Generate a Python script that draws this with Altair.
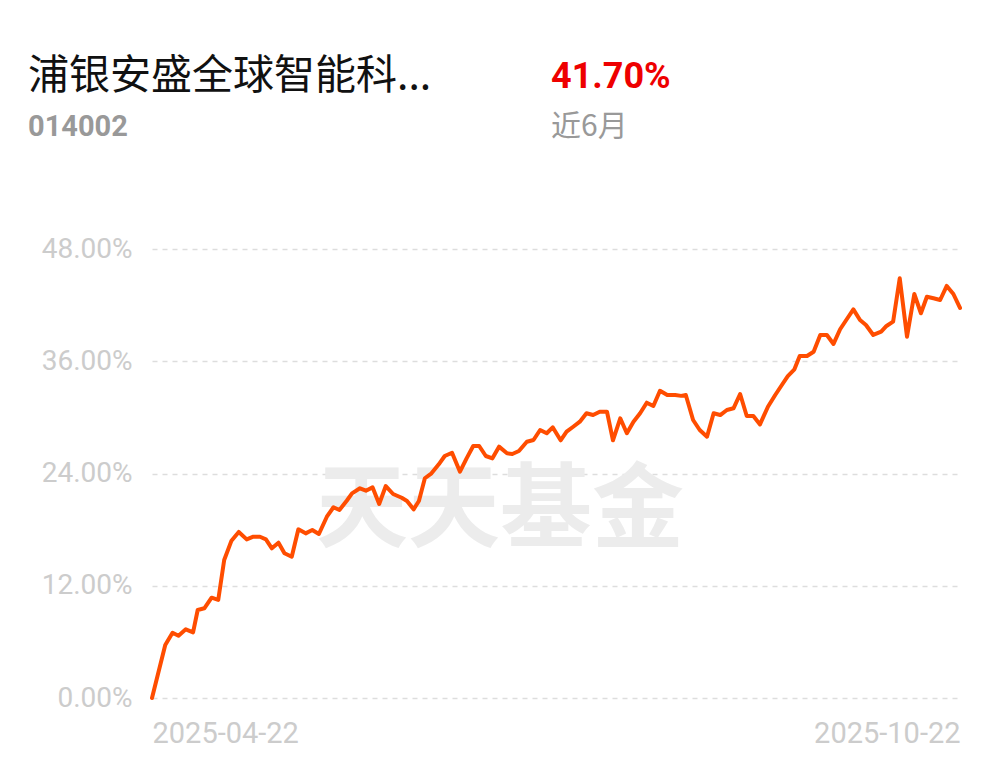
import altair as alt
import pandas as pd

# trading-day position (0 = 2025-04-22) and cumulative return in %
days = [0.0, 2.0, 3.1, 4.0, 5.1, 6.2, 6.9, 7.9, 9.0, 10.0, 10.9, 12.0, 13.1, 14.3, 15.3,
        16.3, 17.2, 18.1, 19.1, 20.0, 21.1, 22.1, 23.2, 24.2, 25.2, 26.4, 27.4, 28.3,
        29.4, 30.2, 31.4, 32.3, 33.3, 34.3, 35.3, 36.4, 37.7, 38.5, 39.5, 40.3, 41.2,
        42.2, 43.3, 44.2, 45.3, 46.5, 47.5, 48.5, 49.4, 50.4, 51.4, 52.4, 53.6, 54.4,
        55.4, 56.6, 57.6, 58.6, 59.6, 60.5, 61.7, 62.6, 63.6, 64.6, 65.6, 66.6, 67.6,
        68.7, 69.6, 70.7, 71.7, 72.7, 73.7, 74.7, 75.7, 76.7, 77.8, 79.0, 79.9, 80.6,
        81.7, 82.7, 83.8, 84.8, 85.8, 86.8, 87.8, 88.8, 89.8, 90.8, 91.8, 93.0, 94.1,
        95.1, 96.0, 97.0, 97.8, 98.9, 99.9, 100.9, 101.9, 102.9, 103.9, 104.9, 105.9,
        106.9, 107.8, 108.9, 110.1, 110.9, 111.9, 112.9, 114.0, 115.1, 116.1, 117.0,
        118.0, 119.0, 120.0, 121.0, 122.0]
returns = [0.00, 5.67, 6.98, 6.66, 7.34, 7.02, 9.41, 9.59, 10.72, 10.48, 14.75, 16.82,
           17.75, 16.96, 17.24, 17.24, 16.96, 16.00, 16.60, 15.47, 15.10, 18.03, 17.60,
           17.96, 17.53, 19.38, 20.39, 20.10, 21.09, 21.88, 22.42, 22.16, 22.52, 20.74,
           22.66, 21.81, 21.41, 21.06, 20.17, 21.06, 23.49, 24.02, 24.98, 25.87, 26.22,
           24.19, 25.62, 26.94, 26.94, 25.87, 25.62, 26.87, 26.16, 26.09, 26.41, 27.40,
           27.58, 28.65, 28.30, 28.94, 27.55, 28.47, 29.00, 29.54, 30.44, 30.25, 30.60,
           30.60, 27.55, 29.90, 28.30, 29.54, 30.44, 31.57, 31.22, 32.85, 32.39, 32.39,
           32.30, 32.39, 29.72, 28.65, 27.93, 30.44, 30.25, 30.79, 30.97, 32.50, 30.15,
           30.15, 29.25, 31.14, 32.39, 33.46, 34.42, 35.14, 36.56, 36.56, 37.02, 38.81,
           38.81, 37.85, 39.42, 40.49, 41.55, 40.41, 39.88, 38.81, 39.16, 39.77, 40.23,
           44.87, 38.63, 43.19, 41.13, 42.90, 42.73, 42.55, 44.05, 43.19, 41.70]

y_ticks = [0, 12, 24, 36, 48]
date_labels = ["2025-04-22", "2025-10-22"]
date_positions = [0, 122.0]

fund_name = "浦银安盛全球智能科..."
fund_code = "014002"
period_return = "41.70%"
period_label = "近6月"
watermark = "天天基金"

df = pd.DataFrame({"day": days, "ret": returns})

W, H = 808, 449

label_expr = "datum.value < 1 ? '%s' : '%s'" % (date_labels[0], date_labels[1])

x_enc = alt.X("day:Q", scale=alt.Scale(domain=[0, 122.0], nice=False, zero=False),
              axis=alt.Axis(values=date_positions, labelExpr=label_expr, grid=False,
                            domain=False, ticks=False, labelFlush=True,
                            labelFont="Roboto", labelFontSize=29, labelColor="#cccccc",
                            labelPadding=21, title=None))
y_enc = alt.Y("ret:Q", scale=alt.Scale(domain=[0, 48], nice=False),
              axis=alt.Axis(values=y_ticks, labelExpr="format(datum.value, '.2f') + '%'",
                            grid=True, gridDash=[5, 5], gridColor="#dddddd", gridWidth=1.5,
                            domain=False, ticks=False, labelFont="Roboto",
                            labelFontSize=28, labelColor="#cccccc", labelPadding=20,
                            title=None))

wm = alt.Chart(pd.DataFrame({"t": [watermark]})).mark_text(
    font="Noto Sans CJK SC", fontSize=92, fontWeight="bold", color="#ececec",
    align="center", baseline="middle"
).encode(text="t:N", x=alt.value(348), y=alt.value(263))

line = alt.Chart(df).mark_line(color="#ff4d00", strokeWidth=4, strokeJoin="round",
                               strokeCap="round").encode(x=x_enc, y=y_enc)

def header(txt, x, y, size, color, weight="normal", font="Noto Sans CJK SC"):
    return alt.Chart(pd.DataFrame({"t": [txt]})).mark_text(
        font=font, fontSize=size, fontWeight=weight, color=color,
        align="left", baseline="middle"
    ).encode(text="t:N", x=alt.value(x), y=alt.value(y))

h1 = header(fund_name, -124, -172, 41, "#111111")
h2 = header(fund_code, -124, -122, 29, "#999999", "bold", "Roboto")
h3 = header(period_return, 399, -172, 36, "#ee0000", "bold", "Roboto")
h4 = header(period_label, 399, -122, 30, "#999999")

chart = alt.layer(wm, line, h1, h2, h3, h4).properties(
    width=W, height=H,
    background="white",
    autosize=alt.AutoSizeParams(type="none"),
    padding={"left": 144, "top": 241, "right": 33, "bottom": 61},
).configure_view(strokeWidth=0, stroke="transparent")

chart.save("out.html", embed_options={"renderer": "svg", "actions": False})
